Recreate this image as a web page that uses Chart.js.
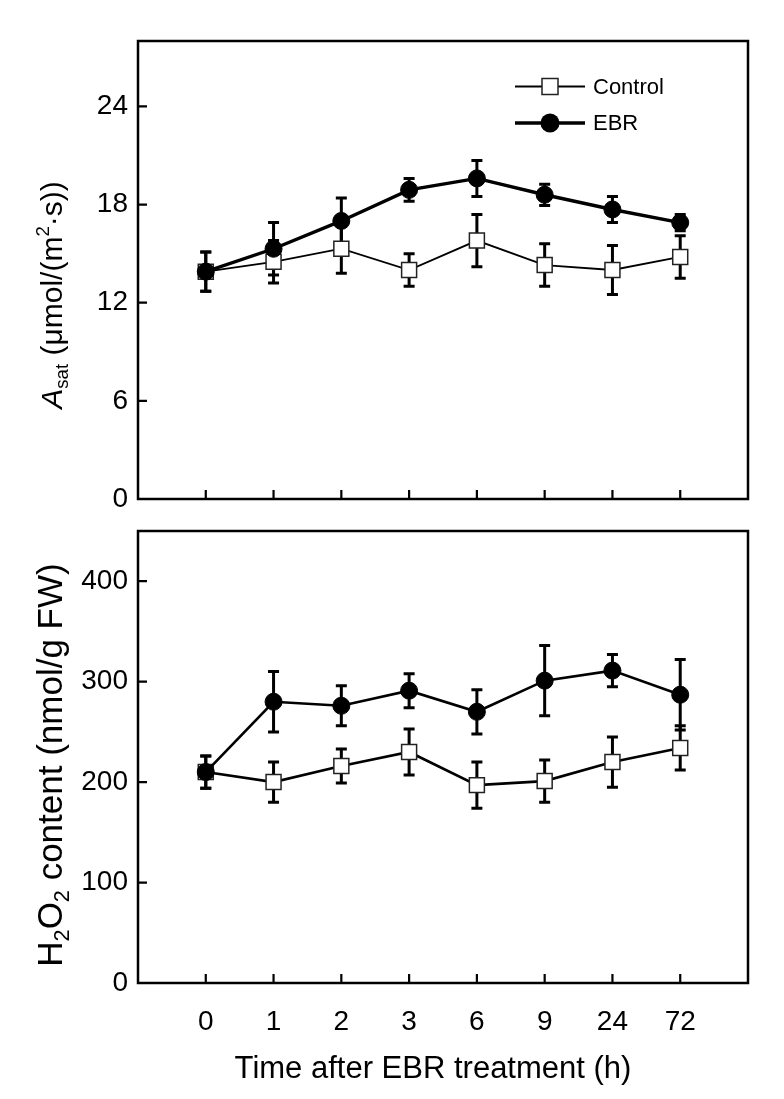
<!DOCTYPE html>
<html><head><meta charset="utf-8">
<script src="https://cdn.jsdelivr.net/npm/chart.js@4.4.1/dist/chart.umd.min.js"></script>
<style>
html,body{margin:0;padding:0;background:#fff;}
#wrap{position:relative;width:784px;height:1099px;background:#fff;}
canvas{position:absolute;left:0;}
#c1{top:0}
#c2{top:515px}
</style></head><body>
<div id="wrap"><canvas id="c1" width="784" height="515"></canvas><canvas id="c2" width="784" height="584"></canvas></div>
<script>
// ---- data ----
const timeLabels = ['0','1','2','3','6','9','24','72'];
const asatControl    = [13.9, 14.5, 15.3, 14.0, 15.8, 14.3, 14.0, 14.8];
const asatControlErr = [1.2, 1.3, 1.5, 1.0, 1.6, 1.3, 1.5, 1.3];
const asatEBR        = [13.9, 15.3, 17.0, 18.9, 19.6, 18.6, 17.7, 16.9];
const asatEBRErr     = [1.2, 1.6, 1.4, 0.7, 1.1, 0.65, 0.8, 0.5];
const h2o2Control    = [210, 200, 216, 230, 197, 201, 220, 234];
const h2o2ControlErr = [16, 20, 17, 23, 23, 21, 25, 22];
const h2o2EBR        = [210, 280, 276, 291, 270, 301, 311, 287];
const h2o2EBRErr     = [16, 30, 20, 17, 22, 35, 16, 35];
const asatTicks = {min: 0, max: 28, step: 6};
const h2o2Ticks = {min: 0, max: 450, step: 100};
const seriesNames = ['Control', 'EBR'];
const xTitle = 'Time after EBR treatment (h)';

const FAM = "'Liberation Sans', Arial, Helvetica, sans-serif";
const toPts = arr => arr.map((v, i) => ({x: i, y: v}));

// error bars drawn beneath the markers
const errorBars = {
  id: 'errorBars',
  beforeDatasetsDraw(chart) {
    const ctx = chart.ctx, ys = chart.scales.y;
    ctx.save();
    ctx.strokeStyle = '#000';
    ctx.lineWidth = 3;
    ctx.lineCap = 'butt';
    chart.data.datasets.forEach((ds, di) => {
      const meta = chart.getDatasetMeta(di);
      meta.data.forEach((el, i) => {
        const v = ds.data[i].y, e = ds.errors[i];
        const yt = ys.getPixelForValue(v + e), yb = ys.getPixelForValue(v - e);
        const x = el.x, cw = 5.5;
        ctx.beginPath();
        ctx.moveTo(x, yt); ctx.lineTo(x, yb);
        ctx.moveTo(x - cw, yt); ctx.lineTo(x + cw, yt);
        ctx.moveTo(x - cw, yb); ctx.lineTo(x + cw, yb);
        ctx.stroke();
      });
    });
    ctx.restore();
  }
};

// frame + inward ticks
const frame = {
  id: 'frame',
  afterDraw(chart) {
    const ctx = chart.ctx, a = chart.chartArea;
    const xs = chart.scales.x, ys = chart.scales.y;
    ctx.save();
    ctx.strokeStyle = '#000';
    ctx.lineWidth = 2.5;
    ctx.strokeRect(a.left, a.top, a.right - a.left, a.bottom - a.top);
    ctx.lineWidth = 2.2;
    ctx.beginPath();
    ys.ticks.forEach(t => {
      const y = ys.getPixelForValue(t.value);
      ctx.moveTo(a.left, y); ctx.lineTo(a.left + 9, y);
    });
    timeLabels.forEach((l, i) => {
      const x = xs.getPixelForValue(i);
      ctx.moveTo(x, a.bottom); ctx.lineTo(x, a.bottom - 9);
    });
    ctx.stroke();
    ctx.restore();
  }
};

function drawRich(ctx, parts, size, baseX, cy) {
  ctx.save();
  ctx.translate(baseX, cy);
  ctx.rotate(-Math.PI / 2);
  const fontFor = p => (p.italic ? 'italic ' : '') + (p.sub || p.sup ? size * 0.62 : size) + 'px ' + FAM;
  let total = 0;
  parts.forEach(p => { ctx.font = fontFor(p); p.w = ctx.measureText(p.t).width; total += p.w; });
  let x = -total / 2;
  ctx.fillStyle = '#000';
  ctx.textBaseline = 'alphabetic';
  ctx.textAlign = 'left';
  parts.forEach(p => {
    ctx.font = fontFor(p);
    const dy = p.sub ? size * 0.2 : (p.sup ? -size * 0.42 : 0);
    ctx.fillText(p.t, x, dy);
    x += p.w;
  });
  ctx.restore();
}

function yTitlePlugin(parts, size, baseX, cy) {
  return { id: 'ytitle', afterDraw(chart) { drawRich(chart.ctx, parts, size, baseX, cy); } };
}

const xTitlePlugin = {
  id: 'xtitle',
  afterDraw(chart) {
    const ctx = chart.ctx;
    ctx.save();
    ctx.fillStyle = '#000';
    ctx.font = '31px ' + FAM;
    ctx.textAlign = 'center';
    ctx.textBaseline = 'alphabetic';
    ctx.fillText(xTitle, 433, 563);
    ctx.restore();
  }
};

const legendPlugin = {
  id: 'customLegend',
  afterDraw(chart) {
    const ctx = chart.ctx;
    const rows = [{y: 86.5, ds: chart.data.datasets[0]}, {y: 123, ds: chart.data.datasets[1]}];
    ctx.save();
    rows.forEach(r => {
      const ds = r.ds;
      ctx.strokeStyle = '#000';
      ctx.lineWidth = ds.borderWidth;
      ctx.beginPath(); ctx.moveTo(515, r.y); ctx.lineTo(585, r.y); ctx.stroke();
      if (ds.pointStyle === 'rect') {
        ctx.fillStyle = '#fff'; ctx.strokeStyle = '#222'; ctx.lineWidth = 1.5;
        ctx.fillRect(542, r.y - 8, 16, 16); ctx.strokeRect(542, r.y - 8, 16, 16);
      } else {
        ctx.fillStyle = '#000';
        ctx.beginPath(); ctx.arc(550, r.y, 9.5, 0, Math.PI * 2); ctx.fill();
      }
      ctx.fillStyle = '#000';
      ctx.font = '22px ' + FAM;
      ctx.textBaseline = 'middle';
      ctx.fillText(ds.label, 593, r.y + 1);
    });
    ctx.restore();
  }
};

function makeDatasets(ctrl, ctrlErr, ebr, ebrErr, ctrlW, ebrW) {
  return [
    {label: seriesNames[0], data: toPts(ctrl), errors: ctrlErr, borderColor: '#000', borderWidth: ctrlW,
     pointStyle: 'rect', pointRadius: 10.6, pointBackgroundColor: '#fff', pointBorderColor: '#222',
     pointBorderWidth: 1.5, order: 1, tension: 0, fill: false},
    {label: seriesNames[1], data: toPts(ebr), errors: ebrErr, borderColor: '#000', borderWidth: ebrW,
     pointStyle: 'circle', pointRadius: 8.5, pointBackgroundColor: '#000', pointBorderColor: '#000',
     pointBorderWidth: 1, order: 0, tension: 0, fill: false}
  ];
}

function noPad(s) { s.paddingTop = 0; s.paddingBottom = 0; s.paddingLeft = 0; s.paddingRight = 0; }

Chart.defaults.font.family = FAM;
Chart.defaults.color = '#000';

new Chart(document.getElementById('c1'), {
  type: 'line',
  data: {datasets: makeDatasets(asatControl, asatControlErr, asatEBR, asatEBRErr, 1.8, 3.4)},
  options: {
    responsive: false, animation: false, devicePixelRatio: 1,
    layout: {padding: {left: 0, right: 36, top: 41, bottom: 0}},
    plugins: {legend: {display: false}, tooltip: {enabled: false}},
    scales: {
      x: {type: 'linear', min: -1, max: timeLabels.length,
          afterFit(s) { s.height = 16; noPad(s); },
          grid: {display: false, drawTicks: false}, border: {display: false},
          ticks: {display: false, stepSize: 1}},
      y: {min: asatTicks.min, max: asatTicks.max,
          afterFit(s) { s.width = 138; noPad(s); },
          grid: {display: false, drawTicks: false}, border: {display: false},
          ticks: {stepSize: asatTicks.step, includeBounds: false, padding: 10, font: {size: 28}, color: '#000'}}
    }
  },
  plugins: [errorBars, frame, legendPlugin,
    yTitlePlugin([{t: 'A', italic: true}, {t: 'sat', sub: true}, {t: ' (μmol/(m'}, {t: '2', sup: true}, {t: '·s))'}], 30, 62, 295)]
});

new Chart(document.getElementById('c2'), {
  type: 'line',
  data: {datasets: makeDatasets(h2o2Control, h2o2ControlErr, h2o2EBR, h2o2EBRErr, 2.6, 2.6)},
  options: {
    responsive: false, animation: false, devicePixelRatio: 1,
    layout: {padding: {left: 0, right: 36, top: 16, bottom: 0}},
    plugins: {legend: {display: false}, tooltip: {enabled: false}},
    scales: {
      x: {type: 'linear', min: -1, max: timeLabels.length,
          afterFit(s) { s.height = 116; noPad(s); },
          grid: {display: false, drawTicks: false}, border: {display: false},
          ticks: {stepSize: 1, autoSkip: false, maxRotation: 0, padding: 22, font: {size: 28}, color: '#000',
                  callback: v => (Number.isInteger(v) && v >= 0 && v < timeLabels.length) ? timeLabels[v] : ''}},
      y: {min: h2o2Ticks.min, max: h2o2Ticks.max,
          afterFit(s) { s.width = 138; noPad(s); },
          grid: {display: false, drawTicks: false}, border: {display: false},
          ticks: {stepSize: h2o2Ticks.step, includeBounds: false, padding: 10, font: {size: 28}, color: '#000'}}
    }
  },
  plugins: [errorBars, frame, xTitlePlugin,
    yTitlePlugin([{t: 'H'}, {t: '2', sub: true}, {t: 'O'}, {t: '2', sub: true}, {t: ' content (nmol/g FW)'}], 35, 62, 250)]
});
</script>
</body></html>
